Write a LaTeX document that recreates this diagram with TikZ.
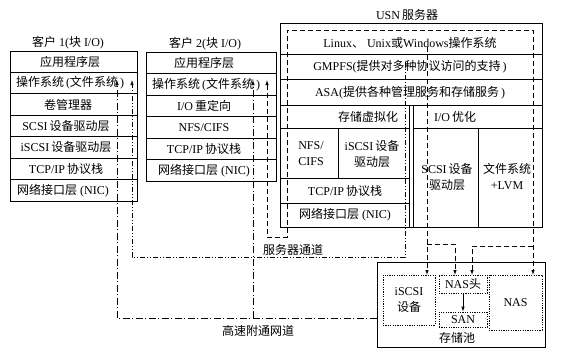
\documentclass[tikz,border=0pt]{standalone}
\usepackage{fontspec}
\setmainfont{Liberation Serif}
\newfontfamily\cjk{Noto Sans CJK SC}
\newcommand{\zh}[1]{{\cjk #1}}
\usetikzlibrary{arrows.meta}
\begin{document}
\begin{tikzpicture}[x=1pt,y=-1pt,
  font=\fontsize{12}{16}\selectfont,
  box/.style={draw, line width=0.9pt, inner sep=0pt},
  lbl/.style={inner sep=0pt, align=center},
  inbox/.style={draw, line width=0.8pt, dash pattern=on 1.2pt off 1.2pt, inner sep=0pt, align=center},
  dd/.style={line width=0.8pt, dash pattern=on 7pt off 2.5pt on 1pt off 2.5pt},
  ddd/.style={line width=0.7pt, dash pattern=on 5pt off 2pt on 1pt off 2pt on 1pt off 2pt},
  dsh/.style={line width=0.8pt, dash pattern=on 5pt off 3pt},
  tip/.style={-{Latex[length=5pt,width=3.5pt]}},
  tips/.style={{Latex[length=5pt,width=3.5pt]}-{Latex[length=5pt,width=3.5pt]}},
]
\useasboundingbox (0,0) rectangle (572,349);

% ---------------- client 1 ----------------
\node[lbl] (c1title) at (68,43) {\zh{客户} 1(\zh{块} I/O)};
\node[box, minimum width=127pt, minimum height=21.43pt] (c1r1) at (73.5,61.7) {};
\node[box, minimum width=127pt, minimum height=21.43pt] (c1r2) at (73.5,83.1) {};
\node[box, minimum width=127pt, minimum height=21.43pt] (c1r3) at (73.5,104.6) {};
\node[box, minimum width=127pt, minimum height=21.43pt] (c1r4) at (73.5,126) {};
\node[box, minimum width=127pt, minimum height=21.43pt] (c1r5) at (73.5,147.4) {};
\node[box, minimum width=127pt, minimum height=21.43pt] (c1r6) at (73.5,168.9) {};
\node[box, minimum width=127pt, minimum height=21.43pt] (c1r7) at (73.5,190.3) {};
\node[lbl] (c1t1) at (70,61.7) {\zh{应用程序层}};
\node[lbl] (c1t2) at (70,83.1) {\zh{操作系统}\,(\zh{文件系统}\,)};
\node[lbl] (c1t3) at (68,104.6) {\zh{卷管理器}};
\node[lbl] (c1t4) at (66,126) {SCSI\,\zh{设备驱动层}};
\node[lbl] (c1t5) at (66,147.4) {iSCSI\,\zh{设备驱动层}};
\node[lbl] (c1t6) at (66,168.9) {TCP/IP\,\zh{协议栈}};
\node[lbl] (c1t7) at (63,190.3) {\zh{网络接口层} (NIC)};

% ---------------- client 2 ----------------
\node[lbl] (c2title) at (205,44) {\zh{客户} 2(\zh{块} I/O)};
\node[box, minimum width=130pt, minimum height=21.5pt] (c2r1) at (211,62.75) {};
\node[box, minimum width=130pt, minimum height=21.5pt] (c2r2) at (211,84.25) {};
\node[box, minimum width=130pt, minimum height=21.5pt] (c2r3) at (211,105.75) {};
\node[box, minimum width=130pt, minimum height=21.5pt] (c2r4) at (211,127.25) {};
\node[box, minimum width=130pt, minimum height=21.5pt] (c2r5) at (211,148.75) {};
\node[box, minimum width=130pt, minimum height=21.5pt] (c2r6) at (211,170.25) {};
\node[lbl] (c2t1) at (204,62.75) {\zh{应用程序层}};
\node[lbl] (c2t2) at (206,84.25) {\zh{操作系统}\,(\zh{文件系统}\,)};
\node[lbl] (c2t3) at (204,105.75) {I/O\,\zh{重定向}};
\node[lbl] (c2t4) at (204,127.25) {NFS/CIFS};
\node[lbl] (c2t5) at (204,148.75) {TCP/IP\,\zh{协议栈}};
\node[lbl] (c2t6) at (204,170.25) {\zh{网络接口层} (NIC)};

% ---------------- USN server ----------------
\node[lbl] (usntitle) at (407,15) {USN\,\zh{服务器}};
\node[box, minimum width=262pt, minimum height=204pt] (usn) at (411,125) {};
\node[box, minimum width=262pt, minimum height=31pt] (s1) at (411,38.5) {};
\node[box, minimum width=262pt, minimum height=25pt] (s2) at (411,66.5) {};
\node[box, minimum width=262pt, minimum height=26pt] (s3) at (411,92) {};
\node[lbl] (s1t) at (410,43) {Linux\zh{、} Unix\zh{或}Windows\zh{操作系统}};
\node[lbl] (s2t) at (410,66.5) {GMPFS(\zh{提供对多种协议访问的支持}\,)};
\node[lbl] (s3t) at (410,93) {ASA(\zh{提供各种管理服务和存储服务}\,)};
% left column
\node[box, minimum width=129pt, minimum height=23pt] (sv) at (344.5,116.5) {};
\node[box, minimum width=58pt, minimum height=50pt] (nfs) at (309,153) {};
\node[box, minimum width=71pt, minimum height=50pt] (isd) at (373.5,153) {};
\node[box, minimum width=129pt, minimum height=25pt] (tcp) at (344.5,190.5) {};
\node[box, minimum width=129pt, minimum height=24pt] (nic) at (344.5,215) {};
\node[lbl] (svt) at (368,117) {\zh{存储虚拟化}};
\node[lbl] (nfst) at (311,154) {NFS/\\CIFS};
\node[lbl] (isdt) at (372,154) {iSCSI\,\zh{设备}\\\zh{驱动层}};
\node[lbl] (tcpt) at (345,191) {TCP/IP\,\zh{协议栈}};
\node[lbl] (nict) at (345,215) {\zh{网络接口层} (NIC)};
% right column
\node[box, minimum width=129pt, minimum height=23pt] (io) at (477.5,116.5) {};
\node[box, minimum width=65pt, minimum height=99pt] (scsi) at (445.5,177.5) {};
\node[box, minimum width=64pt, minimum height=99pt] (fs) at (510,177.5) {};
\node[lbl] (iot) at (455,117) {I/O\,\zh{优化}};
\node[lbl] (scsit) at (447,177) {SCSI\,\zh{设备}\\\zh{驱动层}};
\node[lbl] (fst) at (507,177) {\zh{文件系统}\\+LVM};

% ---------------- storage pool ----------------
\node[box, minimum width=168pt, minimum height=85pt] (pool) at (461,304.5) {};
\node[inbox, minimum width=52pt, minimum height=50pt] (iscsi) at (409,300) {iSCSI\\\zh{设备}};
\node[inbox, minimum width=48pt, minimum height=18pt] (nash) at (463,284) {NAS\zh{头}};
\node[inbox, minimum width=48pt, minimum height=15pt] (san) at (463,319.5) {SAN};
\node[inbox, minimum width=53pt, minimum height=55pt] (nas) at (515.5,302.5) {NAS};
\node[lbl] (poolt) at (457,338) {\zh{存储池}};
\draw[line width=0.8pt, tip] (nash) -- (san);

% ---------------- channels ----------------
\coordinate (c1a) at (117,80);
\coordinate (c1b) at (132,80);
\coordinate (c2a) at (253,80);
\coordinate (c2b) at (267,80);
\coordinate (hsj) at (253,318);
\coordinate (sva) at (405,62);
\coordinate (svb) at (427,47);
\coordinate (nasin) at (533,275);
\coordinate (nashin1) at (455,275);
\coordinate (nashin2) at (472,275);
\coordinate (iscsiin) at (427,275);

% high-speed channel
\draw[dd, tip] (pool.west |- hsj) -| (c1a);
\draw[dd, tip] (hsj) -- (c2a);
% server channel
\draw[ddd, tip] (sva) -- (405,257) -| (c1b);
% file path through server to NAS
\draw[dsh, tips] (c2b) |- (287,237) -- (287,30) -| (nasin);
\draw[dsh, tip] (533,246) -| (nashin2);
% block path to storage
\draw[dsh, tip] (svb) -- (iscsiin);
\draw[dsh, tip] (427,244) -| (nashin1);

% labels
\node[lbl] (srvlbl) at (293,250) {\zh{服务器通道}};
\node[lbl] (hslbl) at (258,331) {\zh{高速附通网道}};
\end{tikzpicture}
\end{document}
